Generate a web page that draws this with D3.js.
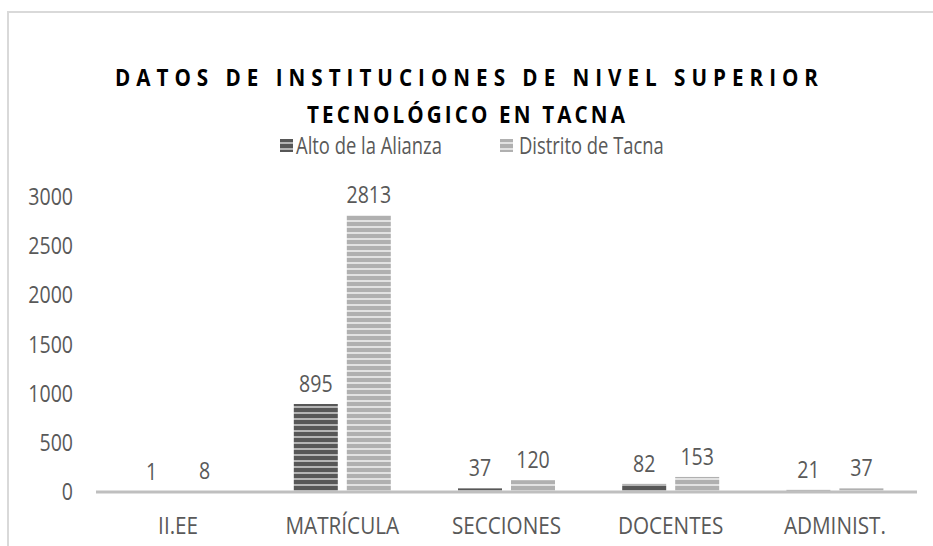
<!DOCTYPE html>
<html><head><meta charset="utf-8">
<script src="https://cdn.jsdelivr.net/npm/d3@7"></script>
<style>body{margin:0;background:#fff}svg{display:block}text{font-family:"Open Sans",sans-serif;fill:#595959}</style>
</head><body>
<svg id="c" width="933" height="546"></svg>
<script>
const categories = ["II.EE","MATRÍCULA","SECCIONES","DOCENTES","ADMINIST."];
const seriesNames = ["Alto de la Alianza","Distrito de Tacna"];
const altoValues = [1,895,37,82,21];
const tacnaValues = [8,2813,120,153,37];
const yTicks = [0,500,1000,1500,2000,2500,3000];
const titleLines = ["DATOS DE INSTITUCIONES DE NIVEL SUPERIOR","TECNOLÓGICO EN TACNA"];

const svg = d3.select("#c");
const defs = svg.append("defs");
function pat(id, bg, fg){
  const p = defs.append("pattern").attr("id",id).attr("patternUnits","userSpaceOnUse").attr("width",8).attr("height",6);
  p.append("rect").attr("width",8).attr("height",6).attr("fill",bg);
  p.append("rect").attr("width",8).attr("height",4).attr("fill",fg);
}
pat("pDark","#b4b4b4","#575757");
pat("pLight","#e2e2e2","#b0b0b0");
const fills = ["url(#pDark)","url(#pLight)"];

function txt(parent, x, y, anchor, sx, size, str){
  const g = parent.append("g").attr("transform",`translate(${x},${y}) scale(${sx},1)`);
  return g.append("text").attr("text-anchor",anchor).style("font-size",size+"px").text(str);
}

// border
svg.append("path").attr("d","M8,546 L8,12 L933,12").attr("fill","none").attr("stroke","#d9d9d9").attr("stroke-width",2);

// title
const tl = [{y:86,x1:115,x2:818},{y:123,x1:307,x2:625}];
const tsx = 0.86;
titleLines.forEach((t,i)=>{
  txt(svg, tl[i].x1, tl[i].y, "start", tsx, 24, t)
    .attr("textLength",(tl[i].x2-tl[i].x1)/tsx).attr("lengthAdjust","spacing")
    .style("font-weight","bold").style("fill","#000");
});

// legend
const legX = [280,500], legT=[296,519];
seriesNames.forEach((s,i)=>{
  svg.append("rect").attr("x",legX[i]).attr("y",139).attr("width",13).attr("height",13).attr("fill",fills[i]);
  txt(svg, legT[i], 154, "start", 0.8, 23, s);
});

const x0 = d3.scaleBand().domain(categories).range([96,917]);
const y = d3.scaleLinear().domain([0,3000]).range([492,197]);
const bw = 44, gap = 9;

// y ticks
yTicks.forEach(d=>txt(svg, 73, y(d)+8, "end", 0.85, 23, d));

const data = categories.map((c,i)=>({c, v:[altoValues[i],tacnaValues[i]]}));
const g = svg.append("g");
data.forEach(d=>{
  const cx = x0(d.c)+x0.bandwidth()/2;
  d.v.forEach((v,j)=>{
    const bx = j===0 ? cx-gap/2-bw : cx+gap/2;
    g.append("rect").attr("x",bx).attr("y",y(v)).attr("width",bw).attr("height",y(0)-y(v)).attr("fill",fills[j]);
    txt(g, bx+bw/2, y(v)-12, "middle", 0.85, 23, v);
  });
  txt(svg, cx, 534, "middle", 0.9, 23, d.c);
});

// baseline
svg.append("line").attr("x1",96).attr("x2",917).attr("y1",y(0)).attr("y2",y(0)).attr("stroke","#bfbfbf").attr("stroke-width",3);
</script>
</body></html>
